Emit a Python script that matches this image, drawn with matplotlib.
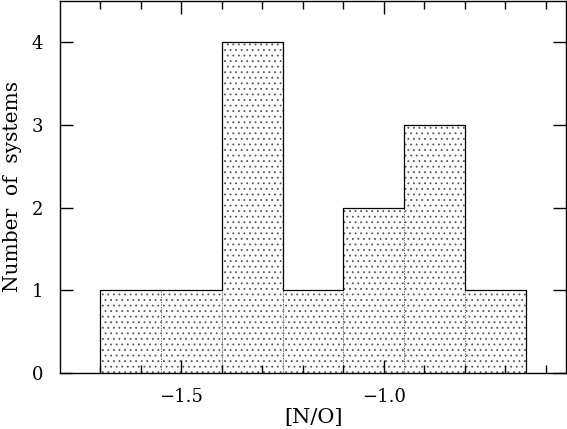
import numpy as np
import matplotlib.pyplot as plt

plt.rcParams['font.family'] = 'DejaVu Serif'
plt.rcParams['hatch.color'] = '#8c8c8c'
plt.rcParams['hatch.linewidth'] = 0.6

bin_edges = [-1.70, -1.55, -1.40, -1.25, -1.10, -0.95, -0.80, -0.65]
counts = [1, 1, 4, 1, 2, 3, 1]

edges = np.array(bin_edges)
widths = np.diff(edges)

fig = plt.figure(figsize=(5.67, 4.29), dpi=100)
ax = fig.add_axes([60/567, 56/429, 506/567, 372/429])

# filled bins with dotted separators
ax.bar(edges[:-1], counts, width=widths, align='edge', color='white',
       edgecolor='#555555', linewidth=0.7, linestyle=':', hatch='...')
# solid outline
xs = np.repeat(edges, 2)
ys = np.concatenate([[0], np.repeat(counts, 2), [0]])
ax.plot(xs, ys, color='black', linewidth=0.9)

ax.set_xlim(-1.8, -0.55)
ax.set_ylim(0, 4.5)
ax.set_xticks([-1.5, -1.0])
ax.set_xticklabels(['\u22121.5', '\u22121.0'])
ax.set_xticks(np.arange(-1.7, -0.55, 0.1), minor=True)
ax.set_yticks([0, 1, 2, 3, 4])
ax.tick_params(which='both', direction='in', top=True, right=True,
               labelsize=13, width=1.0)
ax.tick_params(which='major', length=9.5)
ax.tick_params(which='minor', length=5.8)
ax.tick_params(axis='x', pad=11)
ax.tick_params(axis='y', pad=12)
for s in ax.spines.values():
    s.set_linewidth(1.0)

ax.set_xlabel('[N/O]', fontsize=15, labelpad=1)
ax.set_ylabel('Number  of  systems', fontsize=14.5, labelpad=7)

fig.savefig('out.png', dpi=100)
